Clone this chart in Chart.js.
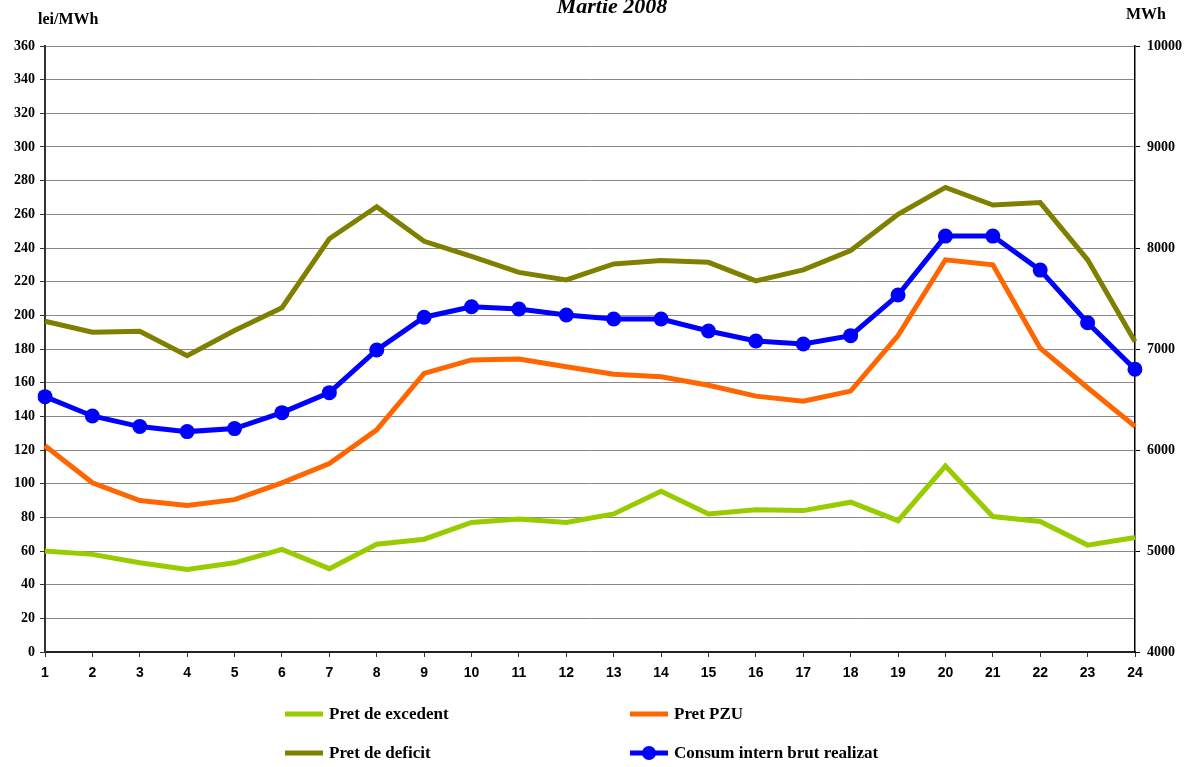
<!DOCTYPE html>
<html>
<head>
<meta charset="utf-8">
<script src="https://cdn.jsdelivr.net/npm/chart.js@4.4.0/dist/chart.umd.min.js"></script>
<style>
  html, body { margin: 0; padding: 0; background: #fff; }
  #wrap { position: relative; width: 1199px; height: 767px; }
</style>
</head>
<body>
<div id="wrap"><canvas id="chart" width="1199" height="767"></canvas></div>
<script>
// Ore ale zilei
const hours = ['1','2','3','4','5','6','7','8','9','10','11','12','13','14','15','16','17','18','19','20','21','22','23','24'];

// Preturi (lei/MWh)
const pretExcedent = [60, 58, 53, 49, 53, 61, 49.5, 64, 67, 77, 79, 77, 82, 95.5, 82, 84.5, 84, 89, 78, 110.5, 80.5, 77.5, 63.5, 68];
const pretPZU = [122.5, 100.5, 90, 87, 90.5, 100.5, 112, 132, 165.5, 173.5, 174, 169.5, 165, 163.5, 158.5, 152, 149, 155, 188, 233, 230, 180.5, 157, 134];
const pretDeficit = [196.5, 190, 190.5, 176, 191, 204.5, 245.5, 264.5, 244, 235, 225.5, 221, 230.5, 232.5, 231.5, 220.5, 227, 238.5, 260, 276, 265.5, 267, 233, 184.5];

// Consum (MWh)
const consum = [6528, 6337, 6232, 6182, 6212, 6370, 6568, 6990, 7315, 7418, 7396, 7336, 7297, 7297, 7178, 7079, 7050, 7132, 7534, 8118, 8118, 7781, 7260, 6799];

const serif = '"Liberation Serif", "Times New Roman", serif';
const sans = '"Liberation Sans", Arial, sans-serif';

// Pozitii legenda: coloana, rand
const legendSlots = [
  { x: 285, y: 714 },
  { x: 630, y: 714 },
  { x: 285, y: 753 },
  { x: 630, y: 753 }
];

const extraText = {
  id: 'extraText',
  afterDraw(chart) {
    const ctx = chart.ctx;
    ctx.save();
    ctx.fillStyle = '#000';
    // titlu (taiat sus ca in original)
    ctx.font = 'bold italic 22px ' + serif;
    ctx.textAlign = 'center';
    ctx.textBaseline = 'alphabetic';
    ctx.fillText('Martie 2008', 612, 13);
    // unitati axe
    ctx.font = 'bold 16px ' + serif;
    ctx.textAlign = 'left';
    ctx.fillText('lei/MWh', 38, 24);
    ctx.fillText('MWh', 1126, 19);

    // legenda
    chart.data.datasets.forEach((ds, i) => {
      const s = legendSlots[i];
      ctx.strokeStyle = ds.borderColor;
      ctx.lineWidth = 5;
      ctx.beginPath();
      ctx.moveTo(s.x, s.y);
      ctx.lineTo(s.x + 38, s.y);
      ctx.stroke();
      if (ds.pointRadius > 0) {
        ctx.fillStyle = ds.pointBackgroundColor;
        ctx.beginPath();
        ctx.arc(s.x + 19, s.y, 7, 0, Math.PI * 2);
        ctx.fill();
      }
      ctx.fillStyle = '#000';
      ctx.font = 'bold 17px ' + serif;
      ctx.textBaseline = 'middle';
      ctx.fillText(ds.label, s.x + 44, s.y + 1);
    });
    ctx.restore();
  }
};

new Chart(document.getElementById('chart'), {
  type: 'line',
  data: {
    labels: hours,
    datasets: [
      { label: 'Pret de excedent', data: pretExcedent, yAxisID: 'y', borderColor: '#99CC00', borderWidth: 5, pointRadius: 0, tension: 0 },
      { label: 'Pret PZU', data: pretPZU, yAxisID: 'y', borderColor: '#FF6600', borderWidth: 5, pointRadius: 0, tension: 0 },
      { label: 'Pret de deficit', data: pretDeficit, yAxisID: 'y', borderColor: '#808000', borderWidth: 5, pointRadius: 0, tension: 0 },
      { label: 'Consum intern brut realizat', data: consum, yAxisID: 'y1', borderColor: '#0000FF', borderWidth: 5,
        pointRadius: 7.5, pointBackgroundColor: '#0000FF', pointBorderColor: '#0000FF', pointBorderWidth: 0, tension: 0 }
    ]
  },
  options: {
    responsive: false,
    animation: false,
    layout: { padding: { top: 46, left: 0, right: 0, bottom: 0 } },
    plugins: {
      legend: { display: false },
      title: { display: false },
      tooltip: { enabled: false }
    },
    scales: {
      x: {
        offset: false,
        afterFit: s => { s.height = 115; },
        grid: { drawOnChartArea: false, tickLength: 5, tickColor: '#333', lineWidth: 1 },
        border: { color: '#222', width: 2 },
        ticks: { color: '#000', font: { family: sans, size: 14, weight: 'bold' }, padding: 8, maxRotation: 0, autoSkip: false }
      },
      y: {
        position: 'left',
        min: 0, max: 360,
        afterFit: s => { s.width = 45; },
        grid: { color: '#888', lineWidth: 1, tickLength: 5, tickColor: '#333' },
        border: { color: '#333', width: 2 },
        ticks: { stepSize: 20, color: '#000', font: { family: serif, size: 14, weight: 'bold' }, padding: 5 }
      },
      y1: {
        position: 'right',
        min: 4000, max: 10000,
        afterFit: s => { s.width = 64; },
        grid: { drawOnChartArea: false, tickLength: 5, tickColor: '#000' },
        border: { color: '#000', width: 1.5 },
        ticks: { stepSize: 1000, color: '#000', font: { family: serif, size: 14, weight: 'bold' }, padding: 7,
          callback: v => String(v) }
      }
    }
  },
  plugins: [extraText]
});
</script>
</body>
</html>
